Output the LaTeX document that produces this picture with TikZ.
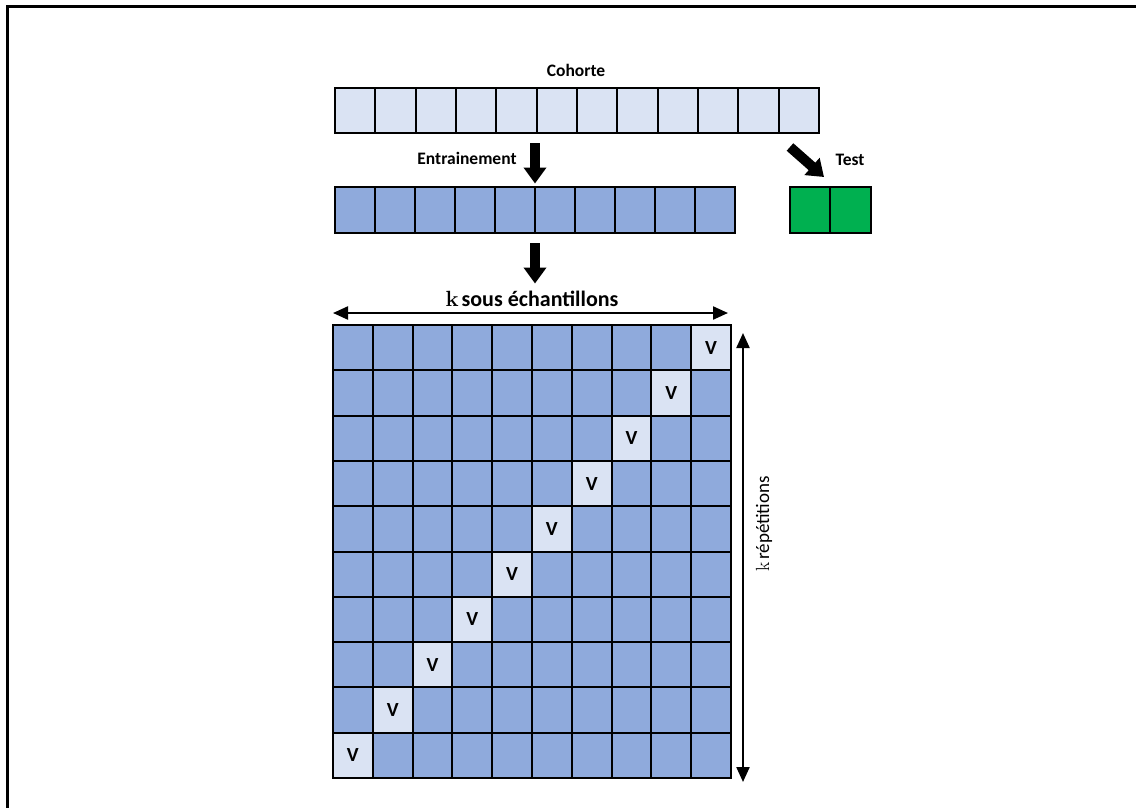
\documentclass[tikz,border=0pt]{standalone}
\usepackage{fontspec}
\newfontfamily\calib{Carlito}
\usetikzlibrary{arrows.meta}
\definecolor{lightcell}{HTML}{DAE3F3}
\definecolor{bluecell}{HTML}{8FAADC}
\definecolor{greencell}{HTML}{00B050}
\tikzset{
  cellbase/.style={draw=black, line width=2pt, inner sep=0pt, outer sep=0pt, anchor=north west},
  cohcell/.style={cellbase, fill=lightcell, minimum width=40.33pt, minimum height=45pt},
  traincell/.style={cellbase, fill=bluecell, minimum width=40pt, minimum height=46pt},
  testcell/.style={cellbase, fill=greencell, minimum width=40.3pt, minimum height=45.5pt},
  gridcell/.style={cellbase, fill=bluecell, minimum width=39.8pt, minimum height=45.3pt},
  valcell/.style={gridcell, fill=lightcell},
  vtext/.style={font=\calib\bfseries\fontsize{20}{20}\selectfont, inner sep=0pt},
  lbl/.style={font=\calib\bfseries\fontsize{17.5}{19}\selectfont, inner sep=0pt},
  bigarrow/.style={line width=10pt, -{Triangle[width=22pt,length=16pt]}},
  dblarrow/.style={line width=2.2pt, {Triangle[width=13pt,length=15pt]}-{Triangle[width=13pt,length=15pt]}}
}
\begin{document}
\begin{tikzpicture}[x=1pt, y=-1pt]
\useasboundingbox (0,0) rectangle (1136,807);
% frame
\draw[line width=2.6pt] (7.5,808) -- (7.5,6.5) -- (1137,6.5);
% Cohorte row
\node[lbl] (cohlbl) at (576,70) {Cohorte};
\foreach \i in {0,...,11} {
  \node[cohcell] (c\i) at ({335+40.33*\i},88) {};
}
% Training row
\foreach \i in {0,...,9} {
  \node[traincell] (t\i) at ({335+40*\i},187) {};
}
\node[lbl] (trainlbl) at (467,158) {Entrainement};
% Test
\node[testcell] (g0) at (790,187) {};
\node[testcell] (g1) at (830.3,187) {};
\node[lbl] (testlbl) at (850,160) {Test};
% arrows
\coordinate (a1s) at (535,143);
\coordinate (a1e) at (535,183.5);
\draw[bigarrow] (a1s) -- (a1e);
\coordinate (a2s) at (790,147);
\coordinate (a2e) at (824,177);
\draw[bigarrow] (a2s) -- (a2e);
\coordinate (a3s) at (535,243);
\coordinate (a3e) at (535,283.5);
\draw[bigarrow] (a3s) -- (a3e);
% Big grid
\foreach \r in {0,...,9} {
  \foreach \c in {0,...,9} {
    \pgfmathtruncatemacro{\vc}{9-\r}
    \ifnum\c=\vc
      \node[valcell] (m\r-\c) at ({333+39.8*\c},{325+45.3*\r}) {};
      \node[vtext] (v\r) at (m\r-\c.center) {V};
    \else
      \node[gridcell] (m\r-\c) at ({333+39.8*\c},{325+45.3*\r}) {};
    \fi
  }
}
% k sous échantillons
\node[inner sep=0pt] (klbl) at (532,299) {{\bfseries\fontsize{22}{23}\selectfont k}\hspace{3pt}{\calib\bfseries\fontsize{22}{23}\selectfont sous échantillons}};
\coordinate (hl) at (333,313);
\coordinate (hr) at (728,313);
\draw[dblarrow] (hl) -- (hr);
% k répétitions
\coordinate (vt) at (743,333);
\coordinate (vb) at (743,782);
\draw[dblarrow] (vt) -- (vb);
\node[rotate=90, inner sep=0pt] (replbl) at (764,524) {{\fontsize{19}{20}\selectfont k}\hspace{3pt}{\calib\fontsize{19}{20}\selectfont répétitions}};
\end{tikzpicture}
\end{document}
